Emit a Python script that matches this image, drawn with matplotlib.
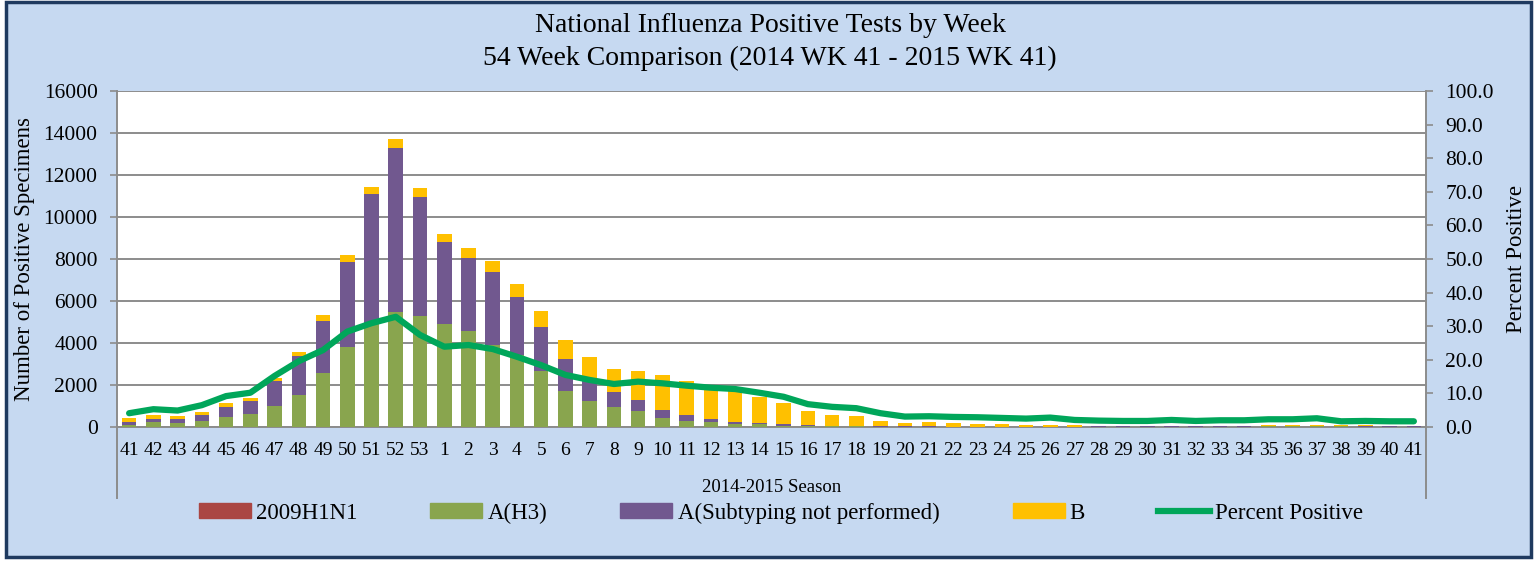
# National influenza positive tests by week, 2014-2015 season (stacked bars + percent positive line)

import numpy as np
import matplotlib.pyplot as plt
from matplotlib.patches import Rectangle
from matplotlib.lines import Line2D

weeks = [41, 42, 43, 44, 45, 46, 47, 48, 49, 50, 51, 52, 53] + list(range(1, 42))

h1n1 = [0] * 54

h3 = [100, 220, 190, 285, 475, 620, 985, 1520, 2570, 3810, 4900, 5460, 5270,
      4900, 4590, 3900, 3430, 2680, 1710, 1240, 950, 760, 440, 300, 220, 160, 130,
      60, 40, 30, 25, 20, 12, 12, 10, 10, 10, 10, 10, 10, 12, 12, 12, 15, 15, 15,
      20, 30, 35, 35, 25, 20, 15, 10]

a_nsub = [150, 160, 190, 285, 475, 620, 1215, 1840, 2490, 4050, 6210, 7840, 5680,
          3900, 3470, 3470, 2780, 2100, 1530, 1000, 700, 540, 380, 290, 180, 90, 60,
          70, 50, 30, 20, 15, 15, 15, 10, 10, 10, 10, 10, 10, 15, 15, 20, 20, 20, 20,
          20, 25, 25, 30, 30, 30, 40, 40]

b = [190, 190, 140, 145, 190, 160, 150, 230, 260, 320, 330, 410, 420,
     390, 480, 530, 590, 740, 900, 1090, 1130, 1370, 1670, 1600, 1450, 1500, 1250,
     1000, 650, 520, 460, 270, 140, 190, 150, 140, 120, 80, 80, 60, 30, 25, 20, 25,
     20, 20, 20, 40, 45, 50, 20, 25, 15, 20]

pct_positive = [4.1, 5.3, 4.9, 6.5, 9.2, 10.2, 15.2, 19.6, 22.9, 28.4, 30.9, 32.8, 27.4,
                23.9, 24.4, 23.2, 20.9, 18.4, 15.5, 14.0, 12.8, 13.5, 13.0, 12.3, 11.7,
                11.3, 10.2, 9.0, 6.8, 6.0, 5.6, 4.1, 3.1, 3.2, 3.0, 2.9, 2.7, 2.5, 2.8,
                2.1, 1.9, 1.8, 1.8, 2.1, 1.8, 2.0, 2.0, 2.3, 2.3, 2.6, 1.7, 1.8, 1.7, 1.7]

plt.rcParams['font.family'] = ['Liberation Serif', 'DejaVu Serif']

bg = '#C6D9F1'
grid_col = '#8C8C8C'

fig = plt.figure(figsize=(15.38, 5.61), dpi=100, facecolor='white')
fig.patches.append(Rectangle((6 / 1538, 4 / 561), 1525 / 1538, 555 / 561,
                             transform=fig.transFigure, facecolor=bg,
                             edgecolor='#1F3A5F', linewidth=2.5, zorder=-10))

ax = fig.add_axes([117 / 1538, 1 - 427 / 561, 1309 / 1538, 336 / 561])
x = np.arange(len(weeks))
w = 0.6

bottom = np.zeros(len(weeks))
for vals, col in [(h1n1, '#AA4643'), (h3, '#89A54E'), (a_nsub, '#71588F'), (b, '#FFC000')]:
    ax.bar(x, vals, width=w, bottom=bottom, color=col, zorder=3)
    bottom += np.array(vals)

ax.set_xlim(-0.5, len(weeks) - 0.5)
ax.set_ylim(0, 16000)
ax.set_yticks(range(0, 16001, 2000))
ax.set_xticks(x)
ax.set_xticklabels(weeks)
ax.grid(axis='y', color=grid_col, linewidth=1.4, zorder=0)
ax.set_axisbelow(True)
for s in ['top', 'right']:
    ax.spines[s].set_visible(False)
for s in ['left', 'bottom']:
    ax.spines[s].set_color(grid_col)
    ax.spines[s].set_linewidth(1.4)
ax.tick_params(axis='y', length=5, color=grid_col, width=1.2, pad=9, labelsize=15.5)
ax.tick_params(axis='x', length=0, pad=11, labelsize=14)

# extended vertical axis lines below the category axis
for xv in [0, 1]:
    ax.add_line(Line2D([xv, xv], [0, -71 / 336], transform=ax.transAxes,
                       color=grid_col, linewidth=1.4, clip_on=False))

ax.set_ylabel('Number of Positive Specimens', fontsize=16.5)
ax.yaxis.set_label_coords(-0.071, 0.5)
ax.yaxis.label.set_va('center')
ax.set_xlabel('2014-2015 Season', fontsize=13.5)
ax.xaxis.set_label_coords(0.5, -60 / 336)
ax.xaxis.label.set_va('center')

ax2 = ax.twinx()
ax2.plot(x, pct_positive, color='#00A65A', linewidth=4.5, solid_joinstyle='round',
         solid_capstyle='round', zorder=5)
ax2.set_ylim(0, 100)
ax2.set_yticks(range(0, 101, 10))
ax2.set_yticklabels([f'{v:.1f}' for v in range(0, 101, 10)])
for s in ['top', 'left', 'bottom']:
    ax2.spines[s].set_visible(False)
ax2.spines['right'].set_color(grid_col)
ax2.spines['right'].set_linewidth(1.4)
ax2.tick_params(axis='y', length=5, color=grid_col, width=1.2, pad=9, labelsize=15.5)
ax2.set_ylabel('Percent Positive', fontsize=16.5, rotation=90)
ax2.yaxis.set_label_coords(1.0695, 0.5)
ax2.yaxis.label.set_va('center')

fig.text(770 / 1538, 1 - 25 / 561, 'National Influenza Positive Tests by Week',
         ha='center', va='center', fontsize=20)
fig.text(770 / 1538, 1 - 58 / 561, '54 Week Comparison (2014 WK 41 - 2015 WK 41)',
         ha='center', va='center', fontsize=20)

handles = [Rectangle((0, 0), 1, 1, color='#AA4643'),
           Rectangle((0, 0), 1, 1, color='#89A54E'),
           Rectangle((0, 0), 1, 1, color='#71588F'),
           Rectangle((0, 0), 1, 1, color='#FFC000'),
           Line2D([0], [0], color='#00A65A', linewidth=4.5)]
labels = ['2009H1N1', 'A(H3)', 'A(Subtyping not performed)', 'B', 'Percent Positive']
fig.legend(handles, labels, loc='center', bbox_to_anchor=(781 / 1538, 1 - 513 / 561),
           ncol=5, frameon=False, fontsize=16.5, handlelength=2.27, handleheight=0.6,
           handletextpad=0.22, columnspacing=3.2)

fig.savefig('out.png', dpi=100, facecolor=fig.get_facecolor())
